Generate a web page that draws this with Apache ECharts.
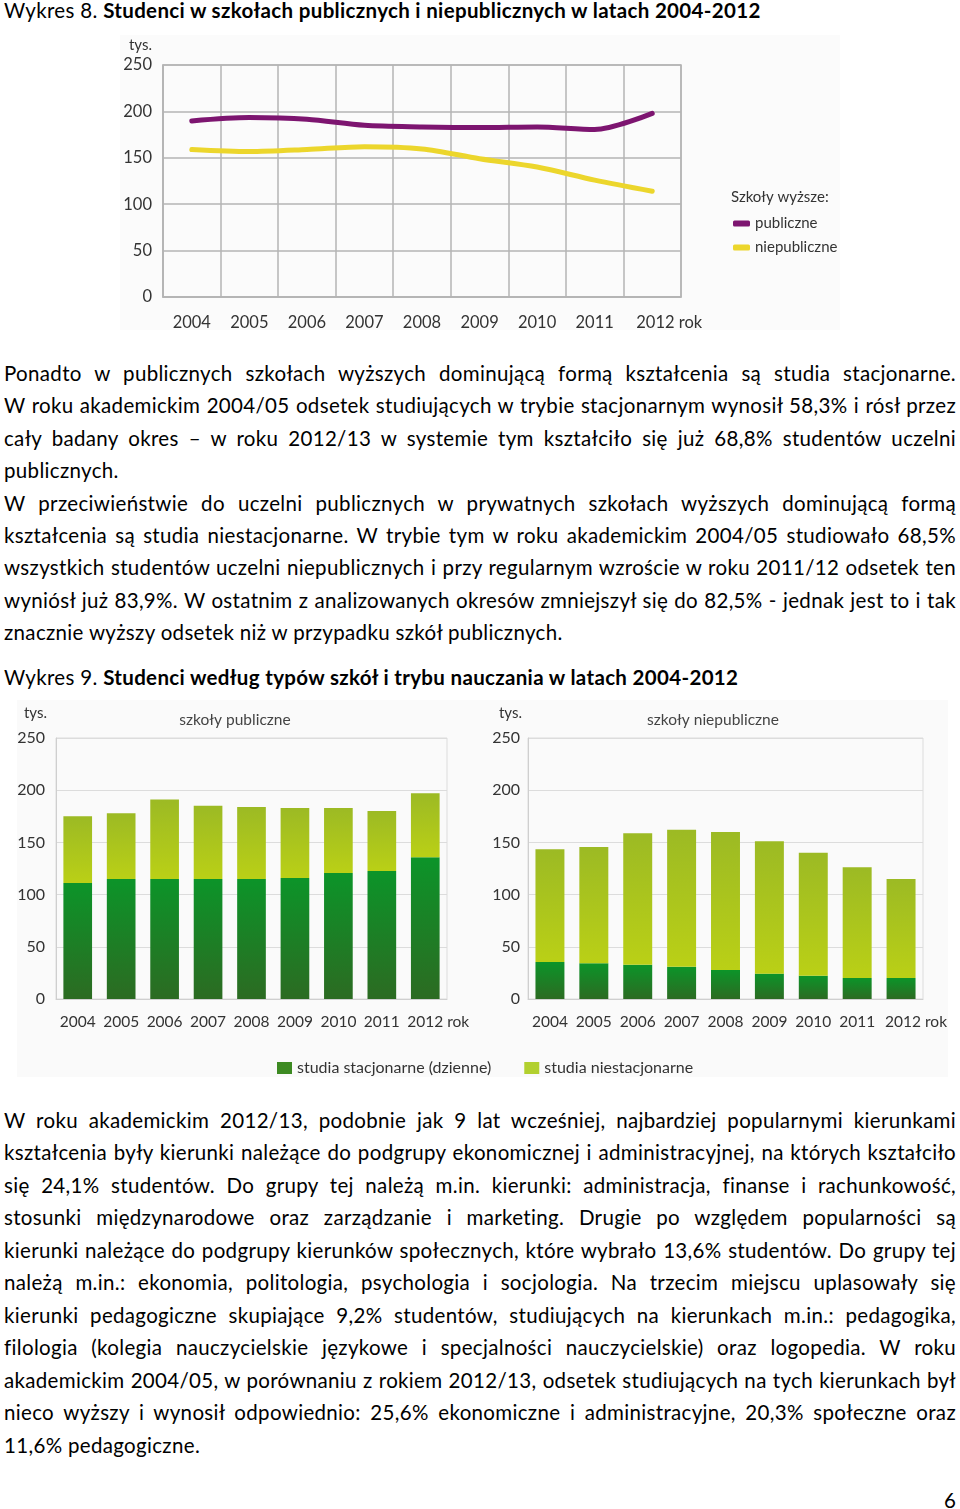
<!DOCTYPE html>
<html lang="pl">
<head>
<meta charset="utf-8">
<script src="https://cdn.jsdelivr.net/npm/echarts@6/dist/echarts.min.js"></script>
<style>
  html, body { margin: 0; padding: 0; background: #fff; }
  body { width: 960px; height: 1509px; position: relative; overflow: hidden;
         font-family: "Lato", "Open Sans", sans-serif; color: #000; }
  .ln { position: absolute; left: 4px; width: 952px; height: 24px; line-height: 24px;
        font-size: 20.5px; letter-spacing: 0.33px; white-space: nowrap; }
  .j { text-align: justify; text-align-last: justify; }
  .ch { position: absolute; }
</style>
</head>
<body>
<div class="ln" style="top:-2px">Wykres 8. <b>Studenci w szkołach publicznych i niepublicznych w latach 2004-2012</b></div>
<div id="c8" class="ch" style="left:120px;top:35px;width:720px;height:295px"></div>

<div class="ln j" style="top:361px">Ponadto w publicznych szkołach wyższych dominującą formą kształcenia są studia stacjonarne.</div>
<div class="ln j" style="top:393px">W roku akademickim 2004/05 odsetek studiujących w trybie stacjonarnym wynosił 58,3% i rósł przez</div>
<div class="ln j" style="top:426px">cały badany okres – w roku 2012/13 w systemie tym kształciło się już 68,8% studentów uczelni</div>
<div class="ln" style="top:458px">publicznych.</div>
<div class="ln j" style="top:491px">W przeciwieństwie do uczelni publicznych w prywatnych szkołach wyższych dominującą formą</div>
<div class="ln j" style="top:523px">kształcenia są studia niestacjonarne. W trybie tym w roku akademickim 2004/05 studiowało 68,5%</div>
<div class="ln j" style="top:555px">wszystkich studentów uczelni niepublicznych i przy regularnym wzroście w roku 2011/12 odsetek ten</div>
<div class="ln j" style="top:588px">wyniósł już 83,9%. W ostatnim z analizowanych okresów zmniejszył się do 82,5% - jednak jest to i tak</div>
<div class="ln" style="top:620px">znacznie wyższy odsetek niż w przypadku szkół publicznych.</div>
<div class="ln" style="top:665px">Wykres 9. <b>Studenci według typów szkół i trybu nauczania w latach 2004-2012</b></div>

<div id="c9" class="ch" style="left:17px;top:700px;width:931px;height:377px"></div>

<div class="ln j" style="top:1108px">W roku akademickim 2012/13, podobnie jak 9 lat wcześniej, najbardziej popularnymi kierunkami</div>
<div class="ln j" style="top:1140px">kształcenia były kierunki należące do podgrupy ekonomicznej i administracyjnej, na których kształciło</div>
<div class="ln j" style="top:1173px">się 24,1% studentów. Do grupy tej należą m.in. kierunki: administracja, finanse i rachunkowość,</div>
<div class="ln j" style="top:1205px">stosunki międzynarodowe oraz zarządzanie i marketing. Drugie po względem popularności są</div>
<div class="ln j" style="top:1238px">kierunki należące do podgrupy kierunków społecznych, które wybrało 13,6% studentów. Do grupy tej</div>
<div class="ln j" style="top:1270px">należą m.in.: ekonomia, politologia, psychologia i socjologia. Na trzecim miejscu uplasowały się</div>
<div class="ln j" style="top:1303px">kierunki pedagogiczne skupiające 9,2% studentów, studiujących na kierunkach m.in.: pedagogika,</div>
<div class="ln j" style="top:1335px">filologia (kolegia nauczycielskie językowe i specjalności nauczycielskie) oraz logopedia. W roku</div>
<div class="ln j" style="top:1368px">akademickim 2004/05, w porównaniu z rokiem 2012/13, odsetek studiujących na tych kierunkach był</div>
<div class="ln j" style="top:1400px">nieco wyższy i wynosił odpowiednio: 25,6% ekonomiczne i administracyjne, 20,3% społeczne oraz</div>
<div class="ln" style="top:1433px">11,6% pedagogiczne.</div>
<div class="ln" style="top:1488px;left:944px;width:20px">6</div>

<script>
// ---- data ----
const years = ['2004', '2005', '2006', '2007', '2008', '2009', '2010', '2011', '2012'];
const yTicks = [0, 50, 100, 150, 200, 250];

// Wykres 8 (tys. studentów)
const publiczne    = [189.7, 193.3, 191.5, 185.0, 183.3, 182.6, 183.3, 180.5, 197.9];
const niepubliczne = [158.9, 156.7, 158.9, 162.0, 159.6, 149.0, 140.0, 126.0, 114.0];

// Wykres 9 (tys. studentów)
const pubStacjonarne      = [111.0, 115.0, 115.0, 115.0, 115.0, 116.0, 120.7, 122.6, 135.7];
const pubNiestacjonarne   = [64.0, 63.0, 76.0, 70.0, 69.0, 67.0, 62.3, 57.4, 61.3];
const niepubStacjonarne   = [35.4, 34.2, 32.9, 31.0, 27.8, 24.3, 22.3, 20.1, 20.1];
const niepubNiestacjonarne= [108.0, 111.4, 125.8, 131.2, 132.2, 126.7, 117.9, 106.0, 94.9];

const FONT = 'Lato, "Open Sans", sans-serif';
const lastLabel = (v, i) => i === years.length - 1 ? '{last|' + v + ' rok}' : v;

// ---- Wykres 8 ----
const c8 = echarts.init(document.getElementById('c8'));
c8.setOption({
  backgroundColor: '#fbfbfb',
  textStyle: { fontFamily: FONT },
  animation: false,
  title: { text: 'Szkoły wyższe:', left: 606, top: 150,
           textStyle: { fontFamily: FONT, fontSize: 15, fontWeight: 'normal', color: '#333' } },
  legend: {
    orient: 'vertical', left: 608, top: 176, itemWidth: 17, itemHeight: 6, itemGap: 9,
    icon: 'roundRect',
    textStyle: { fontFamily: FONT, fontSize: 15, color: '#333' },
    data: ['publiczne', 'niepubliczne']
  },
  grid: { left: 43, top: 30, width: 518, height: 232, show: true, borderColor: '#b4b4b4', borderWidth: 1.5,
          outerBoundsMode: 'none', containLabel: false },
  xAxis: {
    type: 'category', data: years, boundaryGap: true,
    axisLine: { lineStyle: { color: '#b4b4b4', width: 1.5 } },
    axisTick: { show: false },
    splitLine: { show: true, lineStyle: { color: '#b4b4b4', width: 1.5 } },
    axisLabel: { fontSize: 16.5, color: '#333', margin: 17, interval: 0, formatter: lastLabel,
                 rich: { last: { fontSize: 16.5, color: '#333', padding: [0, 0, 0, 34] } } }
  },
  yAxis: {
    type: 'value', min: yTicks[0], max: yTicks[yTicks.length - 1], interval: 50,
    name: 'tys.', nameLocation: 'end', nameGap: 12,
    nameTextStyle: { fontSize: 15, color: '#333', align: 'right', padding: [0, 11, 0, 0] },
    axisLine: { show: true, lineStyle: { color: '#b4b4b4', width: 1.5 } },
    axisTick: { show: false },
    splitLine: { lineStyle: { color: '#b4b4b4', width: 1.5 } },
    axisLabel: { fontSize: 16.5, color: '#333', margin: 11 }
  },
  series: [
    { name: 'publiczne', type: 'line', data: publiczne, smooth: 0.3, symbol: 'none',
      itemStyle: { color: '#7d1570' }, lineStyle: { color: '#7d1570', width: 5, cap: 'round' } },
    { name: 'niepubliczne', type: 'line', data: niepubliczne, smooth: 0.3, symbol: 'none',
      itemStyle: { color: '#ecd62c' }, lineStyle: { color: '#ecd62c', width: 5, cap: 'round' } }
  ]
});

// ---- Wykres 9 ----
const darkGrad = new echarts.graphic.LinearGradient(0, 0, 0, 1, [
  { offset: 0, color: '#0c9429' }, { offset: 1, color: '#2c6b22' }]);
const lightGrad = new echarts.graphic.LinearGradient(0, 0, 0, 1, [
  { offset: 0, color: '#9cba24' }, { offset: 1, color: '#bad016' }]);

function xAx(gridIndex, pad) {
  return {
    type: 'category', gridIndex, data: years, boundaryGap: true,
    axisLine: { lineStyle: { color: '#cfcfcf' } }, axisTick: { show: false },
    axisLabel: { fontSize: 15.5, color: '#333', margin: 15, interval: 0, formatter: lastLabel,
                 rich: { last: { fontSize: 15.5, color: '#333', padding: [0, 0, 0, pad] } } }
  };
}
function yAx(gridIndex, m, np) {
  return {
    type: 'value', gridIndex, min: yTicks[0], max: yTicks[yTicks.length - 1], interval: 50,
    name: 'tys.', nameLocation: 'end', nameGap: 17,
    nameTextStyle: { fontSize: 15, color: '#333', align: 'right', padding: [0, np, 0, 0] },
    axisLine: { show: true, lineStyle: { color: '#cfcfcf' } }, axisTick: { show: false },
    splitLine: { lineStyle: { color: '#dcdcdc' } },
    axisLabel: { fontSize: 16, color: '#333', margin: m }
  };
}
const c9 = echarts.init(document.getElementById('c9'));
c9.setOption({
  backgroundColor: '#fafafa',
  textStyle: { fontFamily: FONT },
  animation: false,
  title: [
    { text: 'szkoły publiczne', left: 213, top: 7, textAlign: 'center',
      textStyle: { fontFamily: FONT, fontSize: 15.5, fontWeight: 'normal', color: '#444' } },
    { text: 'szkoły niepubliczne', left: 691, top: 7, textAlign: 'center',
      textStyle: { fontFamily: FONT, fontSize: 15.5, fontWeight: 'normal', color: '#444' } }
  ],
  legend: {
    left: 255, top: 355, itemWidth: 15, itemHeight: 12, itemGap: 33, icon: 'rect',
    textStyle: { fontFamily: FONT, fontSize: 16, color: '#333' },
    data: [
      { name: 'studia stacjonarne (dzienne)', itemStyle: { color: '#3d8a22' } },
      { name: 'studia niestacjonarne', itemStyle: { color: '#b2d02f' } }
    ]
  },
  grid: [
    { left: 39, top: 38, width: 391, height: 261, show: true, borderColor: '#dcdcdc', borderWidth: 1,
      outerBoundsMode: 'none', containLabel: false },
    { left: 511, top: 38, width: 395, height: 261, show: true, borderColor: '#dcdcdc', borderWidth: 1,
      outerBoundsMode: 'none', containLabel: false }
  ],
  xAxis: [xAx(0, 26), xAx(1, 30)],
  yAxis: [yAx(0, 11, 9), yAx(1, 8, 6)],
  series: [
    { name: 'studia stacjonarne (dzienne)', type: 'bar', stack: 'p', xAxisIndex: 0, yAxisIndex: 0,
      data: pubStacjonarne, barWidth: '66%', itemStyle: { color: darkGrad } },
    { name: 'studia niestacjonarne', type: 'bar', stack: 'p', xAxisIndex: 0, yAxisIndex: 0,
      data: pubNiestacjonarne, barWidth: '66%', itemStyle: { color: lightGrad } },
    { name: 'studia stacjonarne (dzienne)', type: 'bar', stack: 'n', xAxisIndex: 1, yAxisIndex: 1,
      data: niepubStacjonarne, barWidth: '66%', itemStyle: { color: darkGrad } },
    { name: 'studia niestacjonarne', type: 'bar', stack: 'n', xAxisIndex: 1, yAxisIndex: 1,
      data: niepubNiestacjonarne, barWidth: '66%', itemStyle: { color: lightGrad } }
  ]
});
</script>
</body>
</html>
